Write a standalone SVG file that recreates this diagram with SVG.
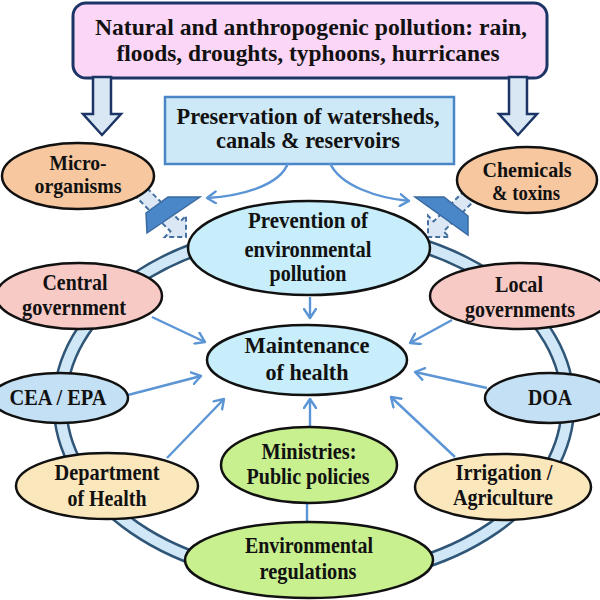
<svg xmlns="http://www.w3.org/2000/svg" width="600" height="600" viewBox="0 0 600 600">
<defs>
<style>
text{font-family:"Liberation Serif","Times New Roman",serif;font-weight:bold;fill:#111;text-anchor:middle}
.t{font-size:24px}
.s{font-size:22px}
.n{stroke:#111;stroke-width:2.5}
.pk{fill:#f8cac6}.pe{fill:#f7c7a0}.cy{fill:#c7eefa}.lb{fill:#c4e0f4}.cr{fill:#fbe7bc}.gr{fill:#c8f08e}
.ar{fill:none;stroke:#5b95d5;stroke-width:2.4;marker-end:url(#ah)}
.blk{fill:#d9e7f5;stroke:#1d3566;stroke-width:2.5}
.dsh{fill:#dbe7f5;stroke:#46709f;stroke-width:2;stroke-dasharray:5 3}
.bar{fill:#4a87c9;stroke:#3a6aa0;stroke-width:1.5}
</style>
<marker id="ah" viewBox="0 0 12 14" refX="10" refY="7" markerWidth="12" markerHeight="14" markerUnits="userSpaceOnUse" orient="auto">
<path d="M1,1 L10,7 L1,13" fill="none" stroke="#5b95d5" stroke-width="2.4" stroke-linecap="round" stroke-linejoin="round"/>
</marker>
</defs>
<rect width="600" height="600" fill="#fff"/>

<g id="ring">
<ellipse cx="314" cy="404" rx="254" ry="175" fill="none" stroke="#2f5577" stroke-width="15"/>
<ellipse cx="314" cy="404" rx="254" ry="175" fill="none" stroke="#cfe7f6" stroke-width="10"/>
</g>

<g id="top">
<rect x="73" y="3" width="474" height="75" rx="13" fill="#fbd6f6" stroke="#1d3566" stroke-width="3"/>
<text class="t" x="311" y="35" font-size="26" textLength="432" lengthAdjust="spacingAndGlyphs">Natural and anthropogenic pollution: rain,</text>
<text class="t" x="308" y="61" font-size="26" textLength="383" lengthAdjust="spacingAndGlyphs">floods, droughts, typhoons, hurricanes</text>
</g>

<g id="preservation">
<rect x="165" y="97" width="289" height="67" fill="#cde9f7" stroke="#4a86c6" stroke-width="2.5"/>
<text class="t" x="308" y="124" font-size="23" textLength="263" lengthAdjust="spacingAndGlyphs">Preservation of watersheds,</text>
<text class="t" x="308" y="148" font-size="23" textLength="184" lengthAdjust="spacingAndGlyphs">canals &amp; reservoirs</text>
</g>

<g id="connectors">
<polygon class="blk" points="93,77 111,77 111,114 121,114 102,135 83,114 93,114"/>
<polygon class="blk" points="509,77 527,77 527,114 537,114 518,135 499,114 509,114"/>
<g transform="translate(186,237) rotate(45)"><polygon class="dsh" points="-78,-7 -15,-7 -15,-15 0,0 -15,15 -15,7 -78,7"/></g>
<g transform="translate(428,237) rotate(135)"><polygon class="dsh" points="-78,-7 -15,-7 -15,-15 0,0 -15,15 -15,7 -78,7"/></g>
<polygon class="bar" points="168,197 200,197 147,233 146,213"/>
<polygon class="bar" points="415,197 444,197 468,216 468,235"/>
<path class="ar" d="M288,163 C280,186 240,196 207,198"/>
<path class="ar" d="M330,163 C340,186 378,198 409,201"/>
<path class="ar" d="M310,297 L310,318"/>
<path class="ar" d="M310,427 L310,399"/>
<line x1="307" y1="503" x2="307" y2="523" stroke="#5b95d5" stroke-width="2.4"/>
<path class="ar" d="M152,317 L205,342"/>
<path class="ar" d="M128,395 L201,376"/>
<path class="ar" d="M167,458 L224,399"/>
<path class="ar" d="M452,320 L410,343"/>
<path class="ar" d="M487,388 L415,372"/>
<path class="ar" d="M455,457 L391,397"/>
</g>

<g id="micro"><ellipse class="n pe" cx="78" cy="176" rx="76" ry="33"/>
<text class="s" x="78" y="170" textLength="57" lengthAdjust="spacingAndGlyphs">Micro-</text>
<text class="s" x="78" y="193" textLength="87" lengthAdjust="spacingAndGlyphs">organisms</text></g>

<g id="chemicals"><ellipse class="n pe" cx="527" cy="180" rx="70" ry="33"/>
<text class="s" x="527" y="177" textLength="89" lengthAdjust="spacingAndGlyphs">Chemicals</text>
<text class="s" x="526" y="200" textLength="68" lengthAdjust="spacingAndGlyphs">&amp; toxins</text></g>

<g id="prevention"><ellipse class="n cy" cx="309" cy="248" rx="121" ry="47" stroke-width="3"/>
<text class="t" x="308" y="228" textLength="120" lengthAdjust="spacingAndGlyphs">Prevention of</text>
<text class="t" x="308" y="257" textLength="127" lengthAdjust="spacingAndGlyphs">environmental</text>
<text class="t" x="308" y="281" textLength="77" lengthAdjust="spacingAndGlyphs">pollution</text></g>

<g id="central"><ellipse class="n pk" cx="79" cy="296" rx="83" ry="33"/>
<text class="t" x="75" y="290" textLength="65" lengthAdjust="spacingAndGlyphs">Central</text>
<text class="t" x="74" y="315" textLength="104" lengthAdjust="spacingAndGlyphs">government</text></g>

<g id="local"><ellipse class="n pk" cx="520" cy="296" rx="90" ry="33"/>
<text class="t" x="519" y="292" textLength="48" lengthAdjust="spacingAndGlyphs">Local</text>
<text class="t" x="520" y="317" textLength="110" lengthAdjust="spacingAndGlyphs">governments</text></g>

<g id="maintenance"><ellipse class="n cy" cx="307" cy="360" rx="100" ry="35"/>
<text class="t" x="307" y="353" textLength="125" lengthAdjust="spacingAndGlyphs">Maintenance</text>
<text class="t" x="307" y="380" textLength="83" lengthAdjust="spacingAndGlyphs">of health</text></g>

<g id="cea"><ellipse class="n lb" cx="60" cy="398" rx="68" ry="25"/>
<text class="t" x="58" y="405" textLength="97" lengthAdjust="spacingAndGlyphs">CEA / EPA</text></g>

<g id="doa"><ellipse class="n lb" cx="550" cy="398" rx="65" ry="25"/>
<text class="t" x="550" y="405" textLength="44" lengthAdjust="spacingAndGlyphs">DOA</text></g>

<g id="health"><ellipse class="n cr" cx="107" cy="486" rx="91" ry="33"/>
<text class="t" x="107" y="480" textLength="105" lengthAdjust="spacingAndGlyphs">Department</text>
<text class="t" x="107" y="506" textLength="79" lengthAdjust="spacingAndGlyphs">of Health</text></g>

<g id="ministries"><ellipse class="n gr" cx="309" cy="465" rx="88" ry="38"/>
<text class="t" x="309" y="459" textLength="95" lengthAdjust="spacingAndGlyphs">Ministries:</text>
<text class="t" x="308" y="484" textLength="123" lengthAdjust="spacingAndGlyphs">Public policies</text></g>

<g id="irrigation"><ellipse class="n cr" cx="503" cy="487" rx="88" ry="33"/>
<text class="t" x="504" y="480" textLength="97" lengthAdjust="spacingAndGlyphs">Irrigation /</text>
<text class="t" x="503" y="505" textLength="100" lengthAdjust="spacingAndGlyphs">Agriculture</text></g>

<g id="regulations"><ellipse class="n gr" cx="309" cy="560" rx="124" ry="38"/>
<text class="t" x="309" y="553" textLength="128" lengthAdjust="spacingAndGlyphs">Environmental</text>
<text class="t" x="308" y="579" textLength="97" lengthAdjust="spacingAndGlyphs">regulations</text></g>
</svg>
